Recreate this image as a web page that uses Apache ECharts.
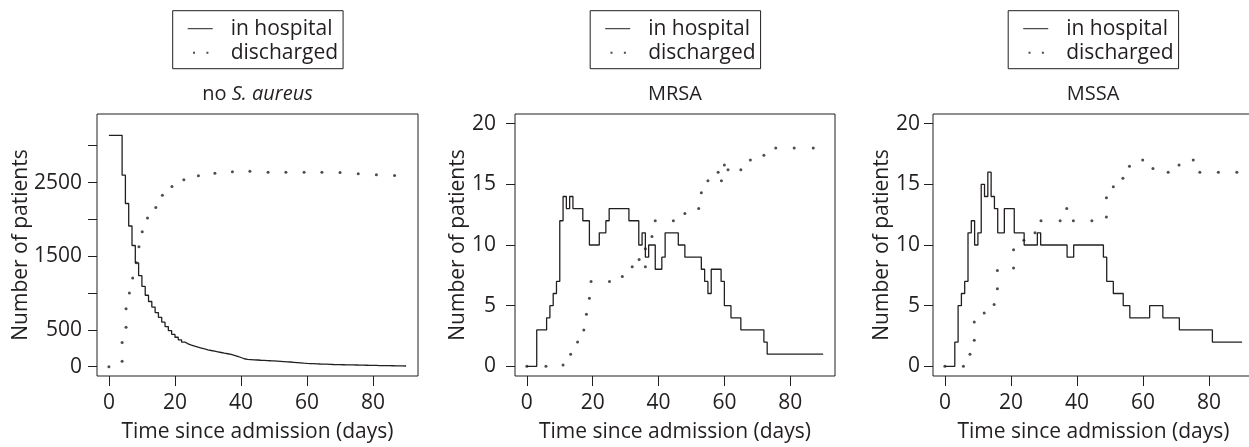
<!DOCTYPE html>
<html><head><meta charset="utf-8">
<script src="https://cdn.jsdelivr.net/npm/echarts@6/dist/echarts.min.js"></script>
<style>html,body{margin:0;padding:0;background:#fff}#c{width:1249px;height:447px}</style>
</head><body><div id="c"></div>
<script>
// ---------------- data ----------------
const panelTitles = ['no S. aureus', 'MRSA', 'MSSA'];
const seriesNames = ['in hospital', 'discharged'];
const xTickValues = [0, 20, 40, 60, 80];
const yTicksNoSA = [0, 500, 1000, 1500, 2000, 2500, 3000];
const yLabelsNoSA = [0, 500, 1500, 2500];
const yTicksSA = [0, 5, 10, 15, 20];
const xAxisTitle = 'Time since admission (days)';
const yAxisTitle = 'Number of patients';

// no S. aureus: in hospital, one value per day 0..90
const noSAInHospital = [3140,3140,3140,3140,2600,2215,1910,1645,1410,1235,1090,970,885,810,735,670,605,545,490,440,
  400,365,335,310,292,278,265,253,241,230,220,211,202,193,184,176,166,154,140,125,
  108,100,97,94,91,88,86,84,81,79,76,73,70,67,64,60,56,52,48,45,
  43,41,39,37,36,34,32,30,29,28,27,26,25,24,23,22,21,20,19,18,
  17,16,15,14,14,13,12,11,11,10,10];
// no S. aureus: discharged (dots)
const noSADisDays = [0,4,4,5.2,5.2,6.2,7.2,8.3,9.1,10.1,11.7,14.2,16.2,19.1,22.7,27.1,32.1,37.4,42.7,48.2,53.6,59.1,64.5,70,75.5,81,86.5];
const noSADisVals = [0,73,327,537,787,1001,1205,1410,1628,1833,2018,2160,2328,2446,2537,2592,2627,2645,2654,2641,2641,2641,2641,2636,2618,2604,2595];

// MRSA: in hospital (day where the level starts, level)
const mrsaInDays = [0,3,6,7,8,9,10,11,12,13,14,17,19,22,24,25,31,34,35,36,37,39,41,42,46,48,53,54,55,56,59,60,62,65,72,73,90];
const mrsaInVals = [0,3,4,5,6,7,12,14,13,14,13,12,10,11,12,13,12,10,11,9,10,8,9,11,10,9,8,7,6,8,7,5,4,3,2,1,1];
// MRSA: discharged (dots)
const mrsaDisDays = [0,5.8,11,13.3,15.4,17.3,18.1,19,19.5,25.1,29,32,34.1,36,36,38,39,44.5,48,52.2,53,55,58.1,59.1,60,61.1,65,67.9,72,75.6,81.2,87];
const mrsaDisVals = [0,0,0.1,1,2,3,4.3,5.6,7,7,7.4,8.2,8.8,8.2,9.7,10.7,12,12,12.6,13,14.3,15.3,16,15.3,16.6,16.2,16.2,17,17.4,18,18,18];

// MSSA: in hospital
const mssaInDays = [0,3,4,5,6,7,8,9,10,11,12,13,14,15,16,18,21,24,28,29,37,39,48,49,51,54,56,62,66,71,81,90];
const mssaInVals = [0,2,5,6,7,11,12,10,11,15,14,16,14,13,11,13,11,10,11,10,9,10,9,7,6,5,4,5,4,3,2,2];
// MSSA: discharged (dots)
const mssaDisDays = [0,5.6,7.6,8.9,8.9,11.9,14.9,15.9,15.9,20.8,20.8,23.9,27.3,29.1,34.9,36.9,38.9,44.5,48.9,48.9,51,53.9,55.9,59.9,63,67.6,70.9,75.2,77.2,82.8,88.4];
const mssaDisVals = [0,0,1,2.15,3.66,4.4,5.1,6.4,7.9,8.1,9.6,10.4,11,12,12,13,12,12,12.3,13.9,14.8,15.5,16.5,17,16.3,16,16.6,17,16,16,16];

// ---------------- layout / style ----------------
const FONT = '"Open Sans"';
const INK = '#231f20';
const GRID_TOP = 114, GRID_H = 262;
const panels = [
  { left: 97,  width: 321, yMin: -126, yMax: 3430, yTicks: yTicksNoSA, yLabels: yLabelsNoSA, labelMargin: 15, nameGap: 65, center: 257.5,
    inHosp: noSAInHospital.map((v, d) => [d, v]), dis: noSADisDays.map((d, i) => [d, noSADisVals[i]]) },
  { left: 515, width: 320, yMin: -0.8, yMax: 20.8, yTicks: yTicksSA, yLabels: yTicksSA, labelMargin: 19, nameGap: 46, center: 675,
    inHosp: mrsaInDays.map((d, i) => [d, mrsaInVals[i]]), dis: mrsaDisDays.map((d, i) => [d, mrsaDisVals[i]]) },
  { left: 933, width: 321, yMin: -0.8, yMax: 20.8, yTicks: yTicksSA, yLabels: yTicksSA, labelMargin: 13, nameGap: 40, center: 1093,
    inHosp: mssaInDays.map((d, i) => [d, mssaInVals[i]]), dis: mssaDisDays.map((d, i) => [d, mssaDisVals[i]]) }
];

const txt = { fontFamily: FONT, fontSize: 21, color: INK };
const ttl = { fontFamily: FONT, fontSize: 20, color: INK };
const option = { animation: false, backgroundColor: '#fff', title: [], legend: [], grid: [], xAxis: [], yAxis: [], series: [] };

panels.forEach((p, k) => {
  option.grid.push({ left: p.left, top: GRID_TOP, width: p.width, height: GRID_H, show: true,
    borderColor: INK, borderWidth: 1, backgroundColor: 'transparent', outerBoundsMode: 'none', containLabel: false });
  option.xAxis.push({ type: 'value', gridIndex: k, min: -3.6, max: 93.6, position: 'bottom',
    axisLine: { show: false, onZero: false }, splitLine: { show: false },
    axisTick: { show: true, inside: false, length: 10, lineStyle: { color: INK, width: 1 }, customValues: xTickValues },
    axisLabel: { ...txt, margin: 17, customValues: xTickValues, formatter: v => String(v) },
    name: xAxisTitle, nameLocation: 'middle', nameGap: 46, nameTextStyle: { ...txt }, nameMoveOverlap: false });
  option.yAxis.push({ type: 'value', gridIndex: k, min: p.yMin, max: p.yMax, position: 'left',
    axisLine: { show: false, onZero: false }, splitLine: { show: false },
    axisTick: { show: true, inside: false, length: 9, lineStyle: { color: INK, width: 1 }, customValues: p.yTicks },
    axisLabel: { ...txt, margin: p.labelMargin, customValues: p.yLabels, formatter: v => String(v) },
    name: yAxisTitle, nameLocation: 'middle', nameGap: p.nameGap, nameRotate: 90, nameTextStyle: { ...txt }, nameMoveOverlap: false });
  option.title.push({
    text: k === 0 ? '{n|no }{i|S. aureus}' : panelTitles[k],
    left: p.center, top: 84, textAlign: 'center', padding: 0,
    textStyle: { ...ttl, fontWeight: 'normal', rich: { n: { ...ttl }, i: { ...ttl, fontStyle: 'italic' } } }
  });
  option.legend.push({
    left: p.center - 84.8, top: 10.7, orient: 'vertical', selectedMode: false,
    padding: [7, 5, 5, 15], itemWidth: 38, itemHeight: 10, itemGap: 2,
    borderColor: INK, borderWidth: 1, borderRadius: 0, backgroundColor: '#fff',
    textStyle: { ...txt, lineHeight: 22 },
    data: [
      { name: seriesNames[0], icon: 'path://M0,0M38,10M0,4.5h25v1h-25z', itemStyle: { color: INK, borderWidth: 0 } },
      { name: seriesNames[1], icon: 'path://M0,0M38,10M5.3,4h2v2h-2zM18.7,4h2v2h-2z', itemStyle: { color: INK, borderWidth: 0 } }
    ]
  });
  option.series.push({ name: seriesNames[0], type: 'line', xAxisIndex: k, yAxisIndex: k, step: 'end',
    data: p.inHosp, showSymbol: false, symbol: 'none', lineStyle: { color: INK, width: 1.3 }, itemStyle: { color: INK } });
  option.series.push({ name: seriesNames[1], type: 'scatter', xAxisIndex: k, yAxisIndex: k,
    data: p.dis, symbol: 'circle', symbolSize: 3, itemStyle: { color: INK } });
});

const chart = echarts.init(document.getElementById('c'), null, { renderer: 'canvas' });
chart.setOption(option);
</script>
</body></html>
